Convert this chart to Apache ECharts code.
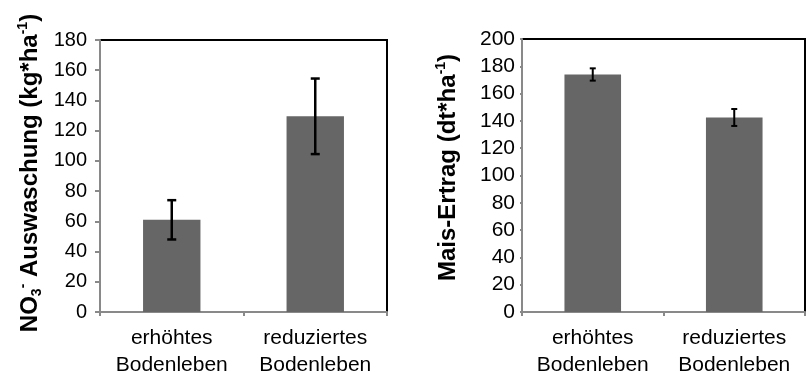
<!DOCTYPE html>
<html>
<head>
<meta charset="utf-8">
<script src="https://cdn.jsdelivr.net/npm/echarts@6/dist/echarts.min.js"></script>
<style>
  html, body { margin: 0; padding: 0; background: #fff; }
  #chart { width: 806px; height: 372px; }
</style>
</head>
<body>
<div id="chart"></div>
<script>
var categories = ['erhöhtes\nBodenleben', 'reduziertes\nBodenleben'];

// NO3 leaching (kg/ha)
var nitrateMean = [61, 129.5];
var nitrateErr = [13, 25];

// maize yield (dt/ha)
var yieldMean = [174, 142.5];
var yieldErr = [4.5, 6.2];

var font = 'Liberation Sans, Arial, sans-serif';
var axisGray = '#898989';
var barColor = '#666666';

var errData = function (mean, err) {
    return mean.map(function (m, i) { return [i, m - err[i], m + err[i]]; });
};

var errRender = function (capHalf, lw) {
    return function (params, api) {
        var lo = api.coord([api.value(0), api.value(1)]);
        var hi = api.coord([api.value(0), api.value(2)]);
        var st = { stroke: '#000', lineWidth: lw };
        return {
            type: 'group',
            children: [
                { type: 'line', shape: { x1: hi[0], y1: hi[1], x2: lo[0], y2: lo[1] }, style: st },
                { type: 'line', shape: { x1: hi[0] - capHalf, y1: hi[1], x2: hi[0] + capHalf, y2: hi[1] }, style: st },
                { type: 'line', shape: { x1: lo[0] - capHalf, y1: lo[1], x2: lo[0] + capHalf, y2: lo[1] }, style: st }
            ]
        };
    };
};

var nameRich = {
    b: { fontSize: 24, fontWeight: 'bold', fontFamily: font, color: '#000', lineHeight: 28 },
    sub: { fontSize: 14, fontWeight: 'bold', fontFamily: font, color: '#000', lineHeight: 14, verticalAlign: 'bottom' },
    sup: { fontSize: 14, fontWeight: 'bold', fontFamily: font, color: '#000', lineHeight: 16, verticalAlign: 'top' }
};

var xAxisOpt = function (gridIndex) {
    return {
        type: 'category',
        gridIndex: gridIndex,
        data: categories,
        axisLine: { lineStyle: { color: axisGray, width: 2 } },
        axisTick: { show: true, length: 4, lineStyle: { color: axisGray, width: 2 } },
        axisLabel: { interval: 0, fontSize: 21, lineHeight: 27, color: '#000', fontFamily: font, margin: 13 },
        splitLine: { show: false }
    };
};

var myChart = echarts.init(document.getElementById('chart'));
myChart.setOption({
    animation: false,
    backgroundColor: '#fff',
    grid: [
        { left: 100, top: 40, width: 287, height: 272, containLabel: false, outerBoundsMode: 'none',
          show: true, borderColor: '#000', borderWidth: 2, backgroundColor: 'transparent' },
        { left: 522, top: 39, width: 283, height: 273, containLabel: false, outerBoundsMode: 'none',
          show: true, borderColor: '#000', borderWidth: 2, backgroundColor: 'transparent' }
    ],
    xAxis: [xAxisOpt(0), xAxisOpt(1)],
    yAxis: [{
        type: 'value',
        gridIndex: 0,
        min: 0, max: 180, interval: 20,
        name: '{b|NO}{sub|3}{sup|-}{b| Auswaschung (kg*ha}{sup|-1}{b|)}',
        nameLocation: 'middle',
        nameGap: 56,
        nameTextStyle: { rich: nameRich, padding: [0, 0, 0, 6] },
        axisLine: { show: true, lineStyle: { color: axisGray, width: 2 } },
        axisTick: { show: true, length: 5, lineStyle: { color: axisGray, width: 2 } },
        axisLabel: { fontSize: 20, color: '#000', fontFamily: font, margin: 13 },
        splitLine: { show: false }
    }, {
        type: 'value',
        gridIndex: 1,
        min: 0, max: 200, interval: 20,
        name: '{b|Mais-Ertrag (dt*ha}{sup|-1}{b|)}',
        nameLocation: 'middle',
        nameGap: 60,
        nameTextStyle: { rich: nameRich, padding: [0, 0, 0, 16] },
        axisLine: { show: true, lineStyle: { color: axisGray, width: 2 } },
        axisTick: { show: true, length: 2, lineStyle: { color: axisGray, width: 2 } },
        axisLabel: { fontSize: 21, color: '#000', fontFamily: font, margin: 7 },
        splitLine: { show: false }
    }],
    series: [{
        type: 'bar',
        xAxisIndex: 0, yAxisIndex: 0,
        data: nitrateMean,
        barWidth: '40%',
        itemStyle: { color: barColor }
    }, {
        type: 'custom',
        xAxisIndex: 0, yAxisIndex: 0,
        renderItem: errRender(4.5, 2.5),
        data: errData(nitrateMean, nitrateErr),
        z: 10
    }, {
        type: 'bar',
        xAxisIndex: 1, yAxisIndex: 1,
        data: yieldMean,
        barWidth: '40%',
        itemStyle: { color: barColor }
    }, {
        type: 'custom',
        xAxisIndex: 1, yAxisIndex: 1,
        renderItem: errRender(3, 2),
        data: errData(yieldMean, yieldErr),
        z: 10
    }]
});
</script>
</body>
</html>
